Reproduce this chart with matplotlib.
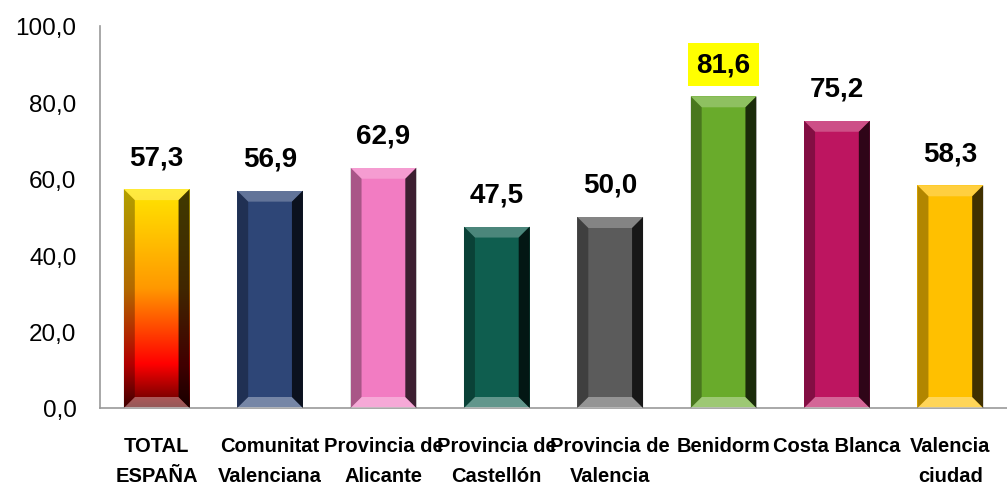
import matplotlib.pyplot as plt
import numpy as np
from matplotlib.colors import LinearSegmentedColormap
from matplotlib.patches import Polygon

categories = ["TOTAL\nESPAÑA", "Comunitat\nValenciana", "Provincia de\nAlicante",
              "Provincia de\nCastellón", "Provincia de\nValencia", "Benidorm",
              "Costa Blanca", "Valencia\nciudad"]
values = [57.3, 56.9, 62.9, 47.5, 50.0, 81.6, 75.2, 58.3]
colors = ["#ff9a00", "#2e4677", "#f27cc2", "#0f5e4f", "#5b5b5b",
          "#69ab2b", "#bd1560", "#ffc000"]
yticks = [0, 20, 40, 60, 80, 100]

plt.rcParams['font.family'] = ['Liberation Sans', 'DejaVu Sans']

fig = plt.figure(figsize=(10.07, 4.89), dpi=100)
ax = fig.add_axes([100 / 1007, 80 / 489, 907 / 1007, 382 / 489])

x = np.arange(len(values))
w = 0.58
bars = ax.bar(x, values, width=w, color=colors, zorder=2)
ax.set_xlim(-0.5, len(values) - 0.5)
ax.set_ylim(0, 100)

# gradient fill for the first bar
grad = LinearSegmentedColormap.from_list("g", [(0, "#5a0000"), (0.2, "#ff0000"),
                                               (0.55, "#ff9900"), (1, "#ffe600")])
b0 = bars[0]
im = ax.imshow(np.linspace(0, 1, 256).reshape(-1, 1), cmap=grad, origin="lower",
               extent=[b0.get_x(), b0.get_x() + w, 0, values[0]],
               aspect="auto", zorder=2.5)
im.set_clip_path(b0)
ax.set_aspect("auto")

# bevel faces, ~11 px wide
dx = 11 * 8 / 907
dy = 11 * 100 / 382
for b in bars:
    x0, x1 = b.get_x(), b.get_x() + b.get_width()
    y0, y1 = 0, b.get_height()
    faces = [
        ([(x0, y1), (x1, y1), (x1 - dx, y1 - dy), (x0 + dx, y1 - dy)], "white", 0.25),
        ([(x0, y0), (x1, y0), (x1 - dx, y0 + dy), (x0 + dx, y0 + dy)], "white", 0.35),
        ([(x0, y0), (x0 + dx, y0 + dy), (x0 + dx, y1 - dy), (x0, y1)], "black", 0.3),
        ([(x1, y0), (x1 - dx, y0 + dy), (x1 - dx, y1 - dy), (x1, y1)], "black", 0.75),
    ]
    for pts, c, a in faces:
        ax.add_patch(Polygon(pts, closed=True, facecolor=c, alpha=a, lw=0, zorder=3))

for i, v in enumerate(values):
    txt = f"{v:.1f}".replace(".", ",")
    kw = {}
    if categories[i] == "Benidorm":
        kw["bbox"] = dict(boxstyle="square,pad=0.3", facecolor="#ffff00", edgecolor="none")
    ax.annotate(txt, (i, v), xytext=(0, 32), textcoords="offset pixels",
                ha="center", va="center", fontsize=20, fontweight="bold", **kw)

ax.set_xticks(x)
ax.set_xticklabels(categories, fontsize=14.5, fontweight="bold", linespacing=1.75)
ax.set_yticks(yticks)
ax.set_yticklabels([f"{t:.1f}".replace(".", ",") for t in yticks], fontsize=17.5)
ax.tick_params(length=0)
ax.tick_params(axis="y", pad=17)
ax.tick_params(axis="x", pad=20)
for s in ["top", "right"]:
    ax.spines[s].set_visible(False)
for s in ["left", "bottom"]:
    ax.spines[s].set_color("#999999")
    ax.spines[s].set_linewidth(1.2)

fig.savefig("out.png", dpi=100)
